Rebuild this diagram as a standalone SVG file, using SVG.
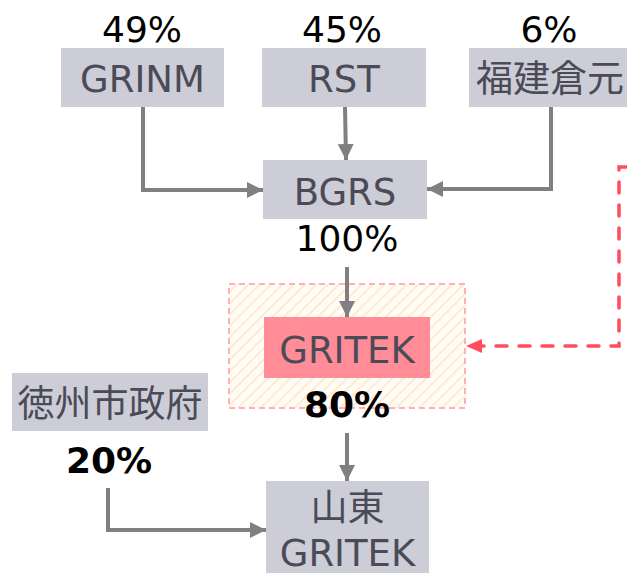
<svg xmlns="http://www.w3.org/2000/svg" width="627" height="573" viewBox="0 0 627 573">
<defs>
<style>
.box{fill:#cdcdd7}
.lbl{font-family:"DejaVu Sans","Noto Sans CJK JP",sans-serif;font-size:37px;fill:#4b4b57;text-anchor:middle}
.pct{font-family:"DejaVu Sans","Noto Sans CJK JP",sans-serif;font-size:36px;fill:#000;text-anchor:middle}
.bold{font-weight:bold}
.con{fill:none;stroke:#808080;stroke-width:4}
.red{fill:none;stroke:#ff4d5e;stroke-width:3.5;stroke-dasharray:11 12;stroke-linecap:round}
</style>
<marker id="ah" markerUnits="userSpaceOnUse" markerWidth="16" markerHeight="16" viewBox="0 0 16 16" refX="16" refY="8" orient="auto">
<path d="M0,0 L16,8 L0,16 Z" fill="#808080"/>
</marker>
<marker id="rh" markerUnits="userSpaceOnUse" markerWidth="16" markerHeight="16" viewBox="0 0 16 16" refX="16" refY="8" orient="auto">
<path d="M0,1 L16,8 L0,15 Z" fill="#ff4d5e"/>
</marker>
<pattern id="hatch" patternUnits="userSpaceOnUse" width="8" height="8" patternTransform="rotate(45)">
<rect width="8" height="8" fill="#fffbf5"/>
<line x1="0" y1="0" x2="0" y2="8" stroke="#ffe6c8" stroke-width="3"/>
</pattern>
</defs>

<g id="grinm">
<text class="pct" x="142" y="42">49%</text>
<rect class="box" x="61" y="48" width="163" height="59"/>
<text class="lbl" x="142.5" y="92">GRINM</text>
</g>
<g id="rst">
<text class="pct" x="342" y="42">45%</text>
<rect class="box" x="262" y="48" width="164" height="59"/>
<text class="lbl" x="344" y="92">RST</text>
</g>
<g id="fujian">
<text class="pct" x="549" y="42">6%</text>
<rect class="box" x="469" y="48" width="158" height="59"/>
<text class="lbl" x="550" y="92">福建倉元</text>
</g>
<g id="bgrs">
<rect class="box" x="263" y="160" width="164" height="59"/>
<text class="lbl" x="345" y="205">BGRS</text>
<text class="pct" x="347" y="251">100%</text>
</g>
<g id="gritek">
<rect x="229" y="284" width="236" height="124" fill="url(#hatch)" stroke="#ffb0b6" stroke-width="2" stroke-dasharray="6 4"/>
<rect x="264" y="317" width="166" height="61" fill="#ff8c96"/>
<text class="lbl" x="347" y="363">GRITEK</text>
<text class="pct bold" x="347" y="417">80%</text>
</g>
<g id="dezhou">
<rect class="box" x="12" y="373" width="196" height="58"/>
<text class="lbl" x="110" y="417">徳州市政府</text>
<text class="pct bold" x="109" y="473">20%</text>
</g>
<g id="shandong">
<rect class="box" x="266" y="481" width="163" height="92"/>
<text class="lbl" x="347.5" y="521">山東</text>
<text class="lbl" x="347.5" y="566">GRITEK</text>
</g>

<g id="connectors">
<path class="con" d="M143,107 V190 H263" marker-end="url(#ah)"/>
<path class="con" d="M345,107 L346,160" marker-end="url(#ah)"/>
<path class="con" d="M551,107 V189 H427" marker-end="url(#ah)"/>
<path class="con" d="M347,267 V317" marker-end="url(#ah)"/>
<path class="con" d="M347,433 V481" marker-end="url(#ah)"/>
<path class="con" d="M108,488 V530 H266" marker-end="url(#ah)"/>
<path class="red" d="M627,167 H619 V346 H466" marker-end="url(#rh)"/>
</g>
</svg>
